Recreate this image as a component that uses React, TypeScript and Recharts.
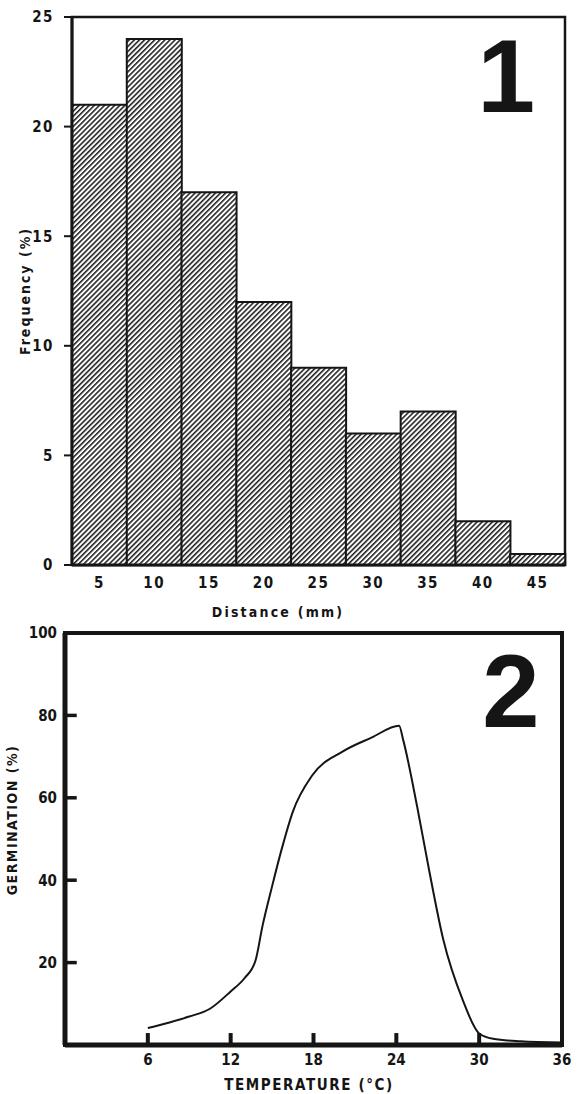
import React from 'react';
import { BarChart, Bar, XAxis, YAxis, LineChart, Line, ReferenceArea, ReferenceLine } from 'recharts';

// ---- Data: Figure 1 (histogram) ----
const distanceLabels = ['5', '10', '15', '20', '25', '30', '35', '40', '45'];
const frequencyValues = [21, 24, 17, 12, 9, 6, 7, 2, 0.5];
const frequencyTicks = [0, 5, 10, 15, 20, 25];

// ---- Data: Figure 2 (germination curve) ----
const temperatureValues = [6, 7.5, 9, 10.5, 12, 13, 13.8, 14.3, 15, 15.7, 16.5, 17.9, 20.1, 22.2, 24.2, 24.5, 25.5, 26.4, 27.4, 28.8, 30, 31, 33, 36];
const germinationValues = [4.1, 5.4, 6.9, 8.8, 13, 16.2, 20.5, 28.8, 38.5, 47.6, 56.6, 65.4, 71.2, 74.6, 77.5, 74, 58, 42, 25.6, 11, 2.8, 1.5, 0.9, 0.6];
const temperatureTicks = [6, 12, 18, 24, 30, 36];
const germinationTicks = [20, 40, 60, 80, 100];
const innerTempTicks = [6, 12, 18, 24, 30];
const innerGermTicks = [20, 40, 60, 80];

const histData = distanceLabels.map((d, i) => ({ distance: d, frequency: frequencyValues[i] }));
const curveData = temperatureValues.map((t, i) => ({ temp: t, germ: germinationValues[i] }));

const INK = '#151515';
const COND = "'Liberation Sans Narrow', 'DejaVu Sans Condensed', 'Arial Narrow', 'Liberation Sans', sans-serif";
const HEAVY = "'Liberation Sans', Arial, sans-serif";

const tickFont = { fill: INK, fontFamily: COND, fontWeight: 'bold', fontSize: 15 } as any;

export default function App() {
  return (
    <div style={{ position: 'relative', width: 586, height: 1094, background: '#fff', overflow: 'hidden' }}>
      <style>{'body{margin:0;background:#fff;}'}</style>
      <svg width={0} height={0} style={{ position: 'absolute' }}>
        <defs>
          <pattern id="hatch" patternUnits="userSpaceOnUse" width={3.6} height={3.6} patternTransform="rotate(45)">
            <rect x={0} y={0} width={3.6} height={3.6} fill="#fff" />
            <line x1={0.8} y1={0} x2={0.8} y2={3.6} stroke={INK} strokeWidth={1.5} />
          </pattern>
        </defs>
      </svg>

      {/* Figure 1 */}
      <div style={{ position: 'absolute', left: 0, top: 0 }}>
        <BarChart width={586} height={625} data={histData} margin={{ top: 17, right: 21, bottom: 0, left: 0 }} barCategoryGap={0} barGap={0}>
          <XAxis
            dataKey="distance"
            height={60}
            tickLine={false}
            tickSize={0}
            tickMargin={12}
            axisLine={{ stroke: INK, strokeWidth: 3 }}
            tick={{ ...tickFont, letterSpacing: 1.5 }}
            interval={0}
            label={() => (
              <text x={278} y={617} textAnchor="middle" fontFamily={COND} fontWeight="bold" fontSize={14} letterSpacing={2.2} fill={INK}>
                Distance (mm)
              </text>
            )}
          />
          <YAxis
            width={72}
            domain={[0, 25]}
            ticks={frequencyTicks}
            tickSize={8}
            tickMargin={10}
            axisLine={{ stroke: INK, strokeWidth: 3 }}
            tickLine={{ stroke: INK, strokeWidth: 2 }}
            tick={{ ...tickFont, letterSpacing: 1.5 }}
            label={() => (
              <text x={30} y={291} transform="rotate(-90 30 291)" textAnchor="middle" fontFamily={COND} fontWeight="bold" fontSize={14} letterSpacing={2} fill={INK}>
                Frequency (%)
              </text>
            )}
          />
          <Bar dataKey="frequency" fill="url(#hatch)" stroke={INK} strokeWidth={2} isAnimationActive={false} />
          <ReferenceArea y1={0} y2={25} fill="none" stroke={INK} strokeWidth={2.5} ifOverflow="visible" />
        </BarChart>
      </div>

      {/* Figure 2 */}
      <div style={{ position: 'absolute', left: 0, top: 620 }}>
        <LineChart width={586} height={474} data={curveData} margin={{ top: 13, right: 24, bottom: 0, left: 0 }}>
          <XAxis
            type="number"
            dataKey="temp"
            domain={[0, 36]}
            ticks={temperatureTicks}
            height={49}
            tickSize={0}
            tickMargin={9}
            tickLine={false}
            axisLine={{ stroke: INK, strokeWidth: 5 }}
            tick={tickFont}
            label={() => (
              <text x={309} y={470} textAnchor="middle" fontFamily={COND} fontWeight="bold" fontSize={15} letterSpacing={1.6} fill={INK}>
                TEMPERATURE (°C)
              </text>
            )}
          />
          <YAxis
            type="number"
            domain={[0, 100]}
            ticks={germinationTicks}
            width={65}
            tickSize={0}
            tickMargin={8}
            tickLine={false}
            axisLine={{ stroke: INK, strokeWidth: 5 }}
            tick={tickFont}
            label={() => (
              <text x={17} y={200} transform="rotate(-90 17 200)" textAnchor="middle" fontFamily={COND} fontWeight="bold" fontSize={14} letterSpacing={1.5} fill={INK}>
                GERMINATION  (%)
              </text>
            )}
          />
          <ReferenceArea x1={0} x2={36} y1={0} y2={100} fill="none" stroke={INK} strokeWidth={4} ifOverflow="visible" />
          {innerTempTicks.map((t) => (
            <ReferenceLine key={'xt' + t} segment={[{ x: t, y: 0 }, { x: t, y: 2.9 }]} stroke={INK} strokeWidth={4} ifOverflow="visible" />
          ))}
          {innerGermTicks.map((g) => (
            <ReferenceLine key={'yt' + g} segment={[{ x: 0, y: g }, { x: 0.85, y: g }]} stroke={INK} strokeWidth={3.5} ifOverflow="visible" />
          ))}
          <Line type="monotone" dataKey="germ" stroke={INK} strokeWidth={2} dot={false} isAnimationActive={false} />
        </LineChart>
      </div>

      {/* Panel numerals */}
      <svg width={586} height={1094} style={{ position: 'absolute', left: 0, top: 0, pointerEvents: 'none' }}>
        <text x={535} y={112} textAnchor="end" fontFamily={HEAVY} fontWeight="bold" fontSize={104} fill={INK}>1</text>
        <text x={511} y={727} textAnchor="middle" fontFamily={HEAVY} fontWeight="bold" fontSize={103} fill={INK}>2</text>
      </svg>
    </div>
  );
}
